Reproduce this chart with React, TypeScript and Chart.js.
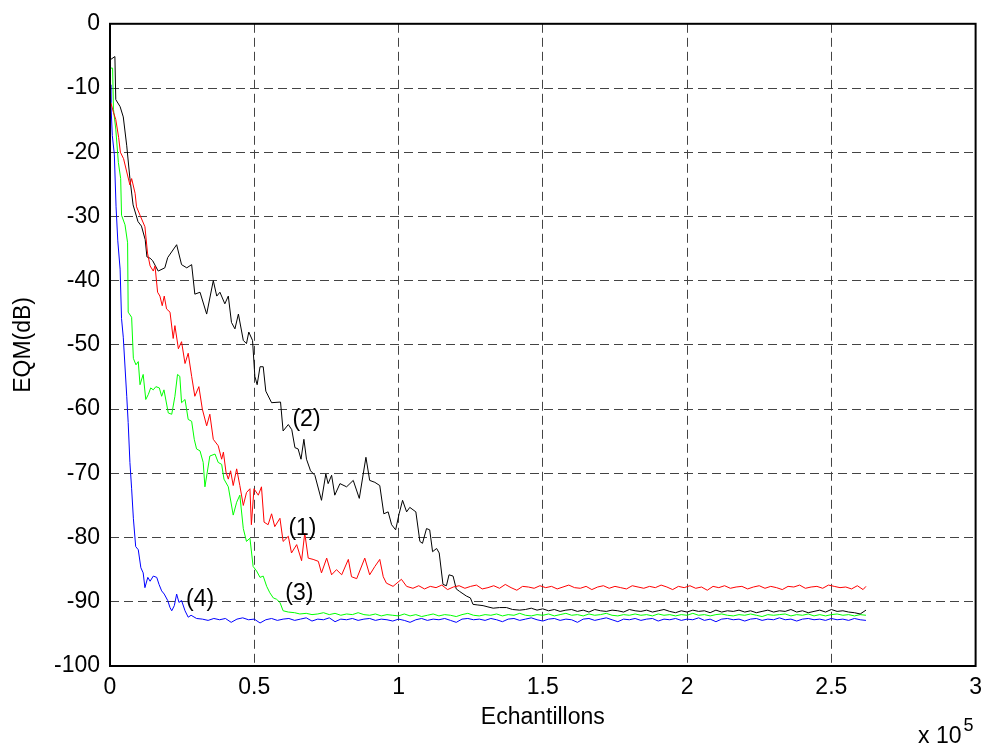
import React, { useEffect, useRef } from "react";
import { Chart, registerables } from "chart.js";

Chart.register(...registerables);

const FONT = '"Liberation Sans", Arial, Helvetica, sans-serif';

const xTickLabels = ["0", "0.5", "1", "1.5", "2", "2.5", "3"];
const yTitle = "EQM(dB)";
const xTitle = "Echantillons";
const xExpBase = "x 10";
const xExpPow = "5";

const curveLabels = ["(1)", "(2)", "(3)", "(4)"];
const curveLabelX = [0.667, 0.681, 0.656, 0.312];
const curveLabelY = [-78.6, -61.7, -88.8, -89.6];

// (1) red
const series1: [number, number][] = [
  [0.003,-12.3],[0.012,-13.8],[0.02,-14.9],[0.03,-17.7],[0.036,-20],[0.047,-21],[0.069,-25.1],[0.075,-24.1],
  [0.087,-26.4],[0.092,-28.5],[0.104,-29.8],[0.121,-31.6],[0.13,-35.7],[0.139,-37.7],[0.15,-38.5],[0.156,-37.7],
  [0.165,-41.8],[0.173,-42.4],[0.181,-43.9],[0.188,-42.4],[0.196,-44.4],[0.208,-44.9],[0.219,-49],[0.225,-47],
  [0.237,-50.6],[0.248,-49.5],[0.26,-52.9],[0.271,-51.3],[0.283,-54.9],[0.294,-58],[0.308,-56.5],[0.32,-60],
  [0.335,-62.6],[0.346,-60.8],[0.358,-64.7],[0.375,-65.7],[0.387,-67.8],[0.393,-66.7],[0.402,-69.8],[0.41,-70.9],
  [0.418,-69.6],[0.427,-71.9],[0.439,-69.3],[0.45,-71.9],[0.462,-75],[0.473,-73],[0.485,-72.4],[0.49,-78],
  [0.499,-72.4],[0.514,-73.4],[0.525,-72.1],[0.534,-77.6],[0.548,-78],[0.56,-76.3],[0.571,-78.3],[0.589,-77],
  [0.6,-80.6],[0.618,-79.8],[0.629,-82.4],[0.647,-81.1],[0.664,-83.6],[0.675,-79.3],[0.687,-83.2],[0.704,-83.4],
  [0.722,-83.7],[0.733,-85.5],[0.751,-83.2],[0.768,-85.8],[0.785,-85],[0.803,-85.8],[0.826,-83.4],[0.837,-86.1],
  [0.855,-86.4],[0.883,-83.2],[0.9,-85.8],[0.918,-84.5],[0.935,-83.4],[0.947,-86.1],[0.958,-87.1],[0.981,-87.6],
  [1.01,-86.5],[1.028,-87.6],
  [1.05,-87.9],[1.07,-87.5],[1.09,-88.0],[1.11,-87.6],[1.13,-87.8],[1.15,-87.4],[1.17,-88.1],[1.19,-87.7],
  [1.21,-87.5],[1.23,-87.9],[1.25,-87.6],[1.27,-87.4],[1.29,-88.0],[1.31,-87.8],[1.33,-87.5],[1.35,-87.9],
  [1.37,-87.3],[1.39,-87.8],[1.41,-88.2],[1.43,-87.6],[1.45,-87.7],[1.47,-87.9],[1.49,-87.5],[1.51,-87.8],
  [1.53,-87.6],[1.55,-88.0],[1.57,-87.7],[1.59,-87.4],[1.61,-87.8],[1.63,-87.9],[1.65,-87.6],[1.67,-88.1],
  [1.69,-87.7],[1.71,-87.5],[1.73,-87.9],[1.75,-87.6],[1.77,-87.8],[1.79,-88.0],[1.81,-87.5],[1.83,-87.7],
  [1.85,-87.9],[1.87,-87.6],[1.89,-87.8],[1.91,-87.4],[1.93,-87.7],[1.95,-88.1],[1.97,-87.6],[1.99,-87.8],
  [2.01,-87.5],[2.03,-87.9],[2.05,-87.7],[2.07,-88.2],[2.09,-87.6],[2.11,-87.8],[2.13,-87.5],[2.15,-87.9],
  [2.17,-87.7],[2.19,-87.6],[2.21,-88.0],[2.23,-87.7],[2.25,-87.5],[2.27,-87.9],[2.29,-87.6],[2.31,-87.8],
  [2.33,-88.1],[2.35,-87.6],[2.37,-87.7],[2.39,-87.4],[2.41,-87.9],[2.43,-87.7],[2.45,-87.6],[2.47,-87.9],
  [2.49,-87.4],[2.51,-87.6],[2.53,-87.8],[2.55,-87.7],[2.57,-88.0],[2.59,-87.5],[2.61,-88.1],[2.62,-87.6],
];

// (2) black
const series2: [number, number][] = [
  [0.001,-5.6],[0.017,-5.1],[0.02,-11.8],[0.035,-12.9],[0.046,-14.5],[0.058,-19],[0.069,-24.1],[0.08,-28.2],
  [0.097,-30.8],[0.109,-31.5],[0.122,-33.6],[0.128,-36.3],[0.139,-36.5],[0.148,-36.9],[0.167,-38.5],[0.19,-38],
  [0.2,-36.4],[0.231,-34.4],[0.248,-37.5],[0.266,-38],[0.283,-37.5],[0.294,-42.1],[0.312,-41.8],[0.335,-45.2],
  [0.358,-40],[0.37,-42.4],[0.381,-41.8],[0.398,-43.6],[0.41,-42.4],[0.421,-46.5],[0.433,-47.5],[0.445,-45.2],
  [0.462,-49.3],[0.473,-49.8],[0.481,-48],[0.494,-49.3],[0.502,-54.9],[0.51,-56.2],[0.52,-53.4],[0.531,-53.4],
  [0.54,-57.2],[0.56,-59],[0.591,-58.9],[0.6,-63.4],[0.618,-62.4],[0.63,-63.2],[0.641,-66],[0.652,-66.2],
  [0.662,-67.8],[0.672,-64.7],[0.681,-67.8],[0.695,-69.6],[0.71,-70.3],[0.733,-74.2],[0.748,-70.1],[0.756,-71.6],
  [0.768,-70.3],[0.779,-73.4],[0.797,-71.6],[0.82,-72.1],[0.843,-71.1],[0.864,-73.9],[0.887,-67.5],[0.9,-71.1],
  [0.918,-71.4],[0.935,-71.9],[0.949,-76.3],[0.964,-76],[0.976,-78],[0.99,-78.8],[1.002,-76.3],[1.014,-74.2],
  [1.028,-76],[1.039,-75.3],[1.06,-76],[1.074,-80.6],[1.083,-80.9],[1.097,-78.6],[1.108,-78.8],[1.118,-82.2],
  [1.132,-81.7],[1.141,-82.4],[1.154,-87.3],[1.166,-87.5],[1.175,-85.8],[1.189,-86],[1.2,-88],[1.212,-88.4],
  [1.235,-89.1],[1.249,-89.4],[1.258,-90.4],[1.275,-90.5],[1.293,-90.6],[1.31,-90.8],[1.328,-91],[1.35,-90.9],
  [1.374,-90.9],[1.395,-91.2],[1.42,-91.3],
  [1.44,-91.2],[1.46,-91.0],[1.48,-91.3],[1.50,-91.1],[1.52,-91.4],[1.54,-91.2],[1.56,-91.5],[1.58,-91.3],
  [1.60,-91.2],[1.62,-91.5],[1.64,-91.3],[1.66,-91.6],[1.68,-91.2],[1.70,-91.4],[1.72,-91.5],[1.74,-91.3],
  [1.76,-91.4],[1.78,-91.6],[1.80,-91.2],[1.82,-91.4],[1.84,-91.5],[1.86,-91.3],[1.88,-91.6],[1.90,-91.4],
  [1.92,-91.2],[1.94,-91.5],[1.96,-91.7],[1.98,-91.4],[2.00,-91.6],[2.02,-91.3],[2.04,-91.5],[2.06,-91.4],
  [2.08,-91.7],[2.10,-91.3],[2.12,-91.6],[2.14,-91.4],[2.16,-91.5],[2.18,-91.3],[2.20,-91.6],[2.22,-91.4],
  [2.24,-91.7],[2.26,-91.5],[2.28,-91.3],[2.30,-91.6],[2.32,-91.4],[2.34,-91.5],[2.36,-91.2],[2.38,-91.6],
  [2.40,-91.4],[2.42,-91.7],[2.44,-91.5],[2.46,-91.3],[2.48,-91.6],[2.50,-91.2],[2.52,-91.5],[2.54,-91.4],
  [2.56,-91.6],[2.58,-91.7],[2.60,-91.9],[2.62,-91.3],
];

// (3) green
const series3: [number, number][] = [
  [0.003,-6.9],[0.009,-6.9],[0.012,-13.3],[0.02,-16.4],[0.029,-21.6],[0.037,-24.1],[0.04,-29.8],[0.052,-31.3],
  [0.061,-34.1],[0.063,-44.9],[0.075,-45.7],[0.081,-52.1],[0.09,-53.1],[0.098,-52.6],[0.104,-56.2],[0.115,-54.6],
  [0.124,-58.5],[0.133,-57.7],[0.141,-56.7],[0.15,-57],[0.159,-56.5],[0.171,-56.7],[0.179,-58],[0.187,-57],
  [0.202,-60.6],[0.214,-60.8],[0.225,-58],[0.234,-54.6],[0.242,-54.9],[0.248,-59],[0.26,-58.5],[0.271,-61.6],
  [0.283,-61.9],[0.292,-64.7],[0.3,-66.2],[0.312,-66.5],[0.323,-68.3],[0.329,-72.1],[0.346,-67.3],[0.364,-67],
  [0.375,-68.3],[0.387,-68.6],[0.395,-70.9],[0.41,-72.1],[0.427,-76.5],[0.439,-74.5],[0.45,-73.4],[0.462,-78.6],
  [0.473,-80.6],[0.485,-80.1],[0.496,-84.5],[0.508,-85.2],[0.52,-86.2],[0.531,-86],[0.543,-87.6],[0.554,-88.6],
  [0.566,-89.4],[0.577,-89.6],[0.589,-90.1],[0.6,-91.4],[0.618,-91.6],[0.64,-91.7],[0.658,-91.9],
  [0.68,-91.8],[0.70,-92.0],[0.72,-91.9],[0.74,-91.7],[0.76,-92.0],[0.78,-91.8],[0.80,-92.1],[0.82,-91.9],
  [0.84,-92.0],[0.86,-91.7],[0.88,-92.0],[0.90,-92.1],[0.92,-91.9],[0.94,-92.2],[0.96,-92.0],[0.98,-92.1],
  [1.00,-92.2],[1.02,-91.9],[1.04,-92.2],[1.06,-92.0],[1.08,-92.3],[1.10,-92.1],[1.12,-91.9],[1.14,-92.2],
  [1.16,-92.0],[1.18,-92.1],[1.20,-92.3],[1.22,-92.0],[1.24,-91.8],[1.26,-92.1],[1.28,-92.2],[1.30,-92.0],
  [1.32,-92.1],[1.34,-91.9],[1.36,-92.2],[1.38,-92.0],[1.40,-92.1],[1.42,-91.8],[1.44,-92.1],[1.46,-92.2],
  [1.48,-92.0],[1.50,-92.1],[1.52,-91.9],[1.54,-92.2],[1.56,-92.0],[1.58,-91.8],[1.60,-92.1],[1.62,-92.0],
  [1.64,-92.2],[1.66,-91.9],[1.68,-92.1],[1.70,-92.0],[1.72,-91.8],[1.74,-92.1],[1.76,-92.2],[1.78,-92.0],
  [1.80,-92.1],[1.82,-91.9],[1.84,-92.1],[1.86,-92.0],[1.88,-92.2],[1.90,-91.9],[1.92,-92.1],[1.94,-92.0],
  [1.96,-92.2],[1.98,-92.0],[2.00,-92.1],[2.02,-91.8],[2.04,-92.1],[2.06,-92.0],[2.08,-92.2],[2.10,-92.0],
  [2.12,-91.9],[2.14,-92.1],[2.16,-92.2],[2.18,-92.0],[2.20,-92.1],[2.22,-91.9],[2.24,-92.1],[2.26,-92.3],
  [2.28,-92.0],[2.30,-92.1],[2.32,-92.0],[2.34,-91.9],[2.36,-92.2],[2.38,-92.0],[2.40,-92.1],[2.42,-91.9],
  [2.44,-92.2],[2.46,-92.0],[2.48,-92.2],[2.50,-92.0],[2.52,-91.9],[2.54,-92.1],[2.56,-92.0],[2.58,-92.2],
  [2.60,-92.0],[2.62,-92.1],
];

// (4) blue
const series4: [number, number][] = [
  [0.001,-9.5],[0.003,-12.3],[0.008,-17.4],[0.015,-20.3],[0.021,-28.5],[0.027,-33.8],[0.035,-38.2],[0.04,-45.9],
  [0.046,-48.8],[0.058,-58],[0.063,-62.1],[0.069,-68.3],[0.075,-72.4],[0.081,-77],[0.089,-81.4],[0.098,-81.9],
  [0.107,-84.7],[0.115,-85.5],[0.121,-87.8],[0.131,-86.2],[0.139,-86.8],[0.15,-86],[0.162,-86.2],[0.17,-87.3],
  [0.179,-88.3],[0.188,-88.8],[0.2,-89.8],[0.208,-90.9],[0.214,-91.4],[0.223,-90.6],[0.231,-88.8],[0.239,-90.1],
  [0.248,-89.8],[0.26,-91.4],[0.271,-92.4],[0.281,-92.1],[0.3,-92.6],
  [0.32,-92.7],[0.34,-92.9],[0.36,-92.6],[0.38,-92.8],[0.40,-92.6],[0.42,-93.2],[0.44,-92.7],[0.46,-92.5],
  [0.48,-92.8],[0.50,-92.7],[0.52,-93.3],[0.54,-92.8],[0.56,-92.6],[0.58,-92.9],[0.60,-92.7],[0.62,-92.6],
  [0.64,-92.9],[0.66,-92.7],[0.68,-92.5],[0.70,-93.0],[0.72,-92.7],[0.74,-92.8],[0.76,-92.5],[0.78,-93.1],
  [0.80,-92.7],[0.82,-92.8],[0.84,-92.6],[0.86,-92.9],[0.88,-92.7],[0.90,-92.6],[0.92,-92.9],[0.94,-92.7],
  [0.96,-92.8],[0.98,-93.0],[1.00,-92.7],[1.02,-92.9],[1.04,-93.2],[1.06,-92.8],[1.08,-92.6],[1.10,-92.9],
  [1.12,-92.7],[1.14,-92.8],[1.16,-92.6],[1.18,-92.9],[1.20,-93.2],[1.22,-92.7],[1.24,-92.6],[1.26,-92.8],
  [1.28,-92.7],[1.30,-92.9],[1.32,-92.6],[1.34,-92.8],[1.36,-93.1],[1.38,-92.7],[1.40,-92.6],[1.42,-92.9],
  [1.44,-92.7],[1.46,-92.5],[1.48,-92.8],[1.50,-93.0],[1.52,-92.7],[1.54,-92.6],[1.56,-92.9],[1.58,-92.7],
  [1.60,-92.8],[1.62,-93.2],[1.64,-92.7],[1.66,-92.6],[1.68,-92.9],[1.70,-92.7],[1.72,-92.5],[1.74,-92.8],
  [1.76,-93.1],[1.78,-92.7],[1.80,-92.8],[1.82,-92.6],[1.84,-92.9],[1.86,-92.7],[1.88,-92.6],[1.90,-93.0],
  [1.92,-92.7],[1.94,-92.8],[1.96,-92.6],[1.98,-92.9],[2.00,-92.7],[2.02,-92.8],[2.04,-92.5],[2.06,-92.9],
  [2.08,-92.7],[2.10,-93.1],[2.12,-92.7],[2.14,-92.6],[2.16,-92.8],[2.18,-92.7],[2.20,-93.0],[2.22,-92.7],
  [2.24,-92.6],[2.26,-92.9],[2.28,-92.7],[2.30,-92.8],[2.32,-92.5],[2.34,-92.8],[2.36,-92.7],[2.38,-93.0],
  [2.40,-92.7],[2.42,-92.6],[2.44,-92.8],[2.46,-92.7],[2.48,-92.9],[2.50,-92.6],[2.52,-92.8],[2.54,-92.7],
  [2.56,-92.9],[2.58,-92.6],[2.60,-92.8],[2.62,-92.9],
];

const seriesList = [series1, series2, series3, series4];
const seriesColors = ["#ff0000", "#000000", "#00ff00", "#0000ff"];

const overlayPlugin = {
  id: "overlay",
  afterDatasetsDraw(chart: any) {
    const { ctx, chartArea, scales } = chart;
    const { left, top, right, bottom } = chartArea;
    ctx.save();
    ctx.strokeStyle = "#000";
    ctx.lineWidth = 2;
    ctx.strokeRect(left, top, right - left, bottom - top);

    ctx.fillStyle = "#000";
    ctx.font = `23px ${FONT}`;
    ctx.textAlign = "center";
    ctx.textBaseline = "middle";
    for (let i = 0; i < curveLabels.length; i++) {
      ctx.fillText(
        curveLabels[i],
        scales.x.getPixelForValue(curveLabelX[i]),
        scales.y.getPixelForValue(curveLabelY[i])
      );
    }

    // x title
    ctx.fillText(xTitle, (left + right) / 2, 718);

    // y title
    ctx.save();
    ctx.translate(24, (top + bottom) / 2);
    ctx.rotate(-Math.PI / 2);
    ctx.fillText(yTitle, 0, 0);
    ctx.restore();

    // exponent
    ctx.textAlign = "left";
    ctx.textBaseline = "alphabetic";
    ctx.fillText(xExpBase, 918, 743);
    const w = ctx.measureText(xExpBase).width;
    ctx.font = `18px ${FONT}`;
    ctx.fillText(xExpPow, 918 + w + 2, 731);
    ctx.restore();
  },
};

export default function App() {
  const ref = useRef<HTMLCanvasElement>(null);

  useEffect(() => {
    const canvas = ref.current;
    if (!canvas) return;
    const chart = new Chart(canvas, {
      type: "line",
      data: {
        datasets: seriesList.map((s, i) => ({
          data: s.map(([x, y]) => ({ x, y })),
          borderColor: seriesColors[i],
          backgroundColor: seriesColors[i],
          borderWidth: 1,
          pointRadius: 0,
          tension: 0,
          fill: false,
        })),
      },
      options: {
        responsive: false,
        animation: false,
        devicePixelRatio: 1,
        parsing: true,
        layout: { padding: { top: 17, right: 14, left: 0, bottom: 0 } },
        plugins: {
          legend: { display: false },
          tooltip: { enabled: false },
          title: { display: false },
        },
        scales: {
          x: {
            type: "linear",
            min: 0,
            max: 3,
            afterFit: (scale: any) => {
              scale.height = 83;
            },
            ticks: {
              stepSize: 0.5,
              padding: 8,
              maxRotation: 0,
              color: "#000",
              font: { size: 23, family: FONT },
              callback: (v: any) => {
                const idx = Math.round(Number(v) / 0.5);
                return xTickLabels[idx] ?? "";
              },
            },
            grid: { color: "#444", lineWidth: 1, drawTicks: false },
            border: { display: false, dash: [9, 5] },
          },
          y: {
            type: "linear",
            min: -100,
            max: 0,
            afterFit: (scale: any) => {
              scale.width = 110;
            },
            ticks: {
              stepSize: 10,
              padding: 10,
              color: "#000",
              font: { size: 23, family: FONT },
            },
            grid: { color: "#444", lineWidth: 1, drawTicks: false },
            border: { display: false, dash: [9, 5] },
          },
        },
      },
      plugins: [overlayPlugin],
    });
    return () => chart.destroy();
  }, []);

  return (
    <div style={{ position: "fixed", left: 0, top: 0, width: 990, height: 749, background: "#fff" }}>
      <canvas ref={ref} width={990} height={749} style={{ display: "block", width: 990, height: 749 }} />
    </div>
  );
}
